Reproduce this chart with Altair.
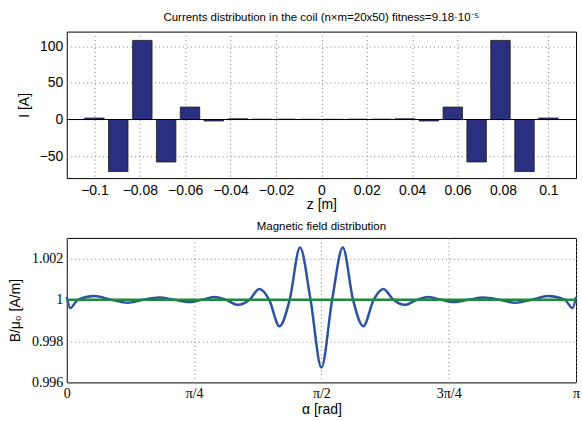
import altair as alt
import pandas as pd

# ---- data ----
z_pos = [-0.1, -0.0895, -0.0789, -0.0684, -0.0579, -0.0474, -0.0368, -0.0263, -0.0158, -0.0053,
         0.0053, 0.0158, 0.0263, 0.0368, 0.0474, 0.0579, 0.0684, 0.0789, 0.0895, 0.1]
currents = [2, -71, 108, -58, 17, -2, 1, 0.5, 0.5, 0.3,
            0.3, 0.5, 0.5, 1, -2, 17, -58, 108, -71, 2]

alpha = [0.000, 0.021, 0.068, 0.170, 0.275, 0.375, 0.471, 0.571, 0.664, 0.756,
         0.833, 0.909, 0.982, 1.056, 1.127, 1.188, 1.249, 1.312, 1.375, 1.439,
         1.504, 1.571, 1.637, 1.703, 1.766, 1.829, 1.893, 1.953, 2.015, 2.085,
         2.160, 2.233, 2.309, 2.386, 2.478, 2.571, 2.670, 2.766, 2.867, 2.971,
         3.073, 3.120, 3.142]
b_field = [1.00015, 0.99960, 1.00000, 1.00018, 1.00000, 0.99986, 1.00000, 1.00011, 1.00000, 0.99989,
           1.00000, 1.00014, 1.00000, 0.99976, 1.00000, 1.00053, 1.00000, 0.99872, 1.00000, 1.00253,
           1.00000, 0.99672, 1.00000, 1.00253, 1.00000, 0.99872, 1.00000, 1.00053, 1.00000, 0.99976,
           1.00000, 1.00014, 1.00000, 0.99989, 1.00000, 1.00011, 1.00000, 0.99986, 1.00000, 1.00018,
           1.00000, 0.99960, 1.00015]
ref_alpha = [0.0, 3.14159]
ref_b = [1.0, 1.0]
zero_line = [0]

z_ticks = [-0.1, -0.08, -0.06, -0.04, -0.02, 0, 0.02, 0.04, 0.06, 0.08, 0.1]
i_ticks = [-50, 0, 50, 100]
a_ticks = [0, 0.785398, 1.570796, 2.356194, 3.141593]
b_ticks = [0.996, 0.998, 1.0, 1.002]

title_top = "Currents distribution in the coil (n\u00d7m=20x50) fitness=9.18\u00b710\u207b\u2075"
title_bot = "Magnetic field distribution"

SANS = "Liberation Sans"
SERIF = "Liberation Serif"

df_bars = pd.DataFrame({"z": z_pos, "I": currents})
df_curve = pd.DataFrame({"a": alpha, "B": b_field})
df_ref = pd.DataFrame({"a": ref_alpha, "B": ref_b})
df_zero = pd.DataFrame({"v": zero_line})

common = dict(grid=True, gridColor="#808080", gridDash=[1, 3], gridWidth=1,
              domain=False, ticks=False, labelOverlap=False, labelFlush=False,
              labelColor="#000", titleColor="#000", titleFontWeight="normal")

x_top = alt.X("z:Q", scale=alt.Scale(domain=[-0.11, 0.11], nice=False, zero=False),
              axis=alt.Axis(values=z_ticks, format=".2~f", title="z [m]",
                            labelFont=SANS, labelFontSize=14, titleFont=SANS, titleFontSize=14,
                            labelPadding=5, titlePadding=1, **common))
y_top = alt.Y("I:Q", scale=alt.Scale(domain=[-80, 120], nice=False),
              axis=alt.Axis(values=i_ticks, title="I [A]",
                            labelFont=SANS, labelFontSize=14, titleFont=SANS, titleFontSize=14,
                            labelPadding=4, titlePadding=8, **common))

bars = alt.Chart(df_bars).mark_bar(size=19.5, color="#2a2f80", stroke="#1a1a1a",
                                   strokeWidth=0.8).encode(x=x_top, y=y_top)
zero = alt.Chart(df_zero).mark_rule(color="#000", strokeWidth=1).encode(y=alt.Y("v:Q"))

top = alt.layer(bars, zero).properties(
    width=511, height=147,
    title=alt.TitleParams(title_top, font=SANS, fontSize=11.5, fontWeight="normal",
                          color="#000", offset=8, anchor="middle"))

label_expr = ("datum.value < 0.1 ? '0' : datum.value < 1 ? '\u03c0/4' : "
              "datum.value < 2 ? '\u03c0/2' : datum.value < 3 ? '3\u03c0/4' : '\u03c0'")

x_bot = alt.X("a:Q", scale=alt.Scale(domain=[0, 3.141593], nice=False, zero=False),
              axis=alt.Axis(values=a_ticks, labelExpr=label_expr, title="\u03b1 [rad]",
                            labelFont=SERIF, labelFontSize=14, titleFont=SANS, titleFontSize=14,
                            labelPadding=4, titlePadding=2, **common))
y_bot = alt.Y("B:Q", scale=alt.Scale(domain=[0.996, 1.003], nice=False, zero=False),
              axis=alt.Axis(values=b_ticks, format=".3~f", title="B/\u03bc\u2080 [A/m]",
                            labelFont=SERIF, labelFontSize=14, titleFont=SANS, titleFontSize=14,
                            labelPadding=4, titlePadding=9, **common))

curve = alt.Chart(df_curve).mark_line(color="#2c52a6", strokeWidth=2.5,
                                      interpolate="monotone").encode(x=x_bot, y=y_bot)
ref = alt.Chart(df_ref).mark_line(color="#1c8a3e", strokeWidth=2.5).encode(x="a:Q", y="B:Q")

bottom = alt.layer(curve, ref).properties(
    width=511, height=145,
    title=alt.TitleParams(title_bot, font=SANS, fontSize=11.5, fontWeight="normal",
                          color="#000", offset=5, anchor="middle"))

chart = alt.vconcat(top, bottom, spacing=8).configure(
    padding={"left": 8, "top": 11, "right": 0, "bottom": 0},
    background="white"
).configure_view(stroke="#000", strokeWidth=1)

chart.save("out.html", embed_options={"renderer": "svg", "actions": False})
